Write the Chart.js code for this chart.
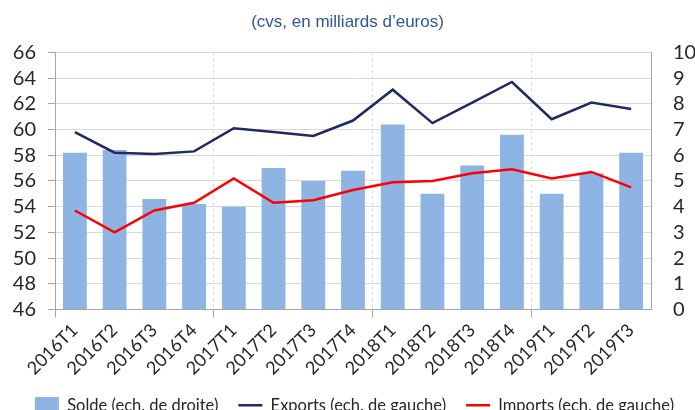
<!DOCTYPE html>
<html>
<head>
<meta charset="utf-8">
<script src="https://cdn.jsdelivr.net/npm/chart.js@4"></script>
<style>
  html, body { margin: 0; padding: 0; background: #fff; }
  #wrap { width: 695px; height: 410px; position: relative; }
</style>
</head>
<body>
<div id="wrap"><canvas id="chart"></canvas></div>
<script>
// Data
const quarters = ['2016T1', '2016T2', '2016T3', '2016T4', '2017T1', '2017T2', '2017T3', '2017T4',
    '2018T1', '2018T2', '2018T3', '2018T4', '2019T1', '2019T2', '2019T3'];
const solde = [6.1, 6.2, 4.3, 4.1, 4.0, 5.5, 5.0, 5.4, 7.2, 4.5, 5.6, 6.8, 4.5, 5.3, 6.1];
const exportsVals = [59.8, 58.2, 58.1, 58.3, 60.1, 59.8, 59.5, 60.7, 63.1, 60.5, 62.1, 63.7, 60.8, 62.1, 61.6];
const importsVals = [53.7, 52.0, 53.7, 54.3, 56.2, 54.3, 54.5, 55.3, 55.9, 56.0, 56.6, 56.9, 56.2, 56.7, 55.5];

const tickFont = { family: 'Lato', size: 20 };
const gridGrey = '#D9D9D9';
const axisGrey = '#A6A6A6';
const legendPad = 20;

// put the legend row at a fixed spot near the bottom edge, like the original
const legendShift = {
    id: 'legendShift',
    afterLayout(chart) {
        const lg = chart.legend;
        const h = lg.bottom - lg.top;
        lg.top = 406 - legendPad - 9;
        lg.bottom = lg.top + h;
        lg.left += 7;
        lg.right += 7;
    }
};

const ctx = document.getElementById('chart').getContext('2d');
new Chart(ctx, {
    data: {
        labels: quarters,
        datasets: [
            {
                type: 'bar',
                label: 'Solde (ech. de droite)',
                data: solde,
                yAxisID: 'yRight',
                backgroundColor: '#8EB4E3',
                borderWidth: 0,
                barPercentage: 0.6,
                categoryPercentage: 1,
                pointStyle: 'rect',
                order: 2
            },
            {
                type: 'line',
                label: 'Exports (ech. de gauche)',
                data: exportsVals,
                yAxisID: 'yLeft',
                borderColor: '#1F2A60',
                backgroundColor: '#1F2A60',
                borderWidth: 2.5,
                pointRadius: 0,
                tension: 0,
                pointStyle: 'line',
                order: 1
            },
            {
                type: 'line',
                label: 'Imports (ech. de gauche)',
                data: importsVals,
                yAxisID: 'yLeft',
                borderColor: '#FF0000',
                backgroundColor: '#FF0000',
                borderWidth: 2.5,
                pointRadius: 0,
                tension: 0,
                pointStyle: 'line',
                order: 1
            }
        ]
    },
    plugins: [legendShift],
    options: {
        responsive: true,
        maintainAspectRatio: false,
        animation: false,
        layout: { padding: { top: 0, left: 0, right: 0, bottom: -14 } },
        plugins: {
            title: {
                display: true,
                text: '(cvs, en milliards d\u2019euros)',
                color: '#2F5597',
                font: { family: 'Liberation Sans', size: 17, weight: 'normal' },
                padding: { top: 12, bottom: 20 }
            },
            legend: {
                position: 'bottom',
                labels: {
                    usePointStyle: true,
                    pointStyleWidth: 24,
                    color: '#262626',
                    font: { family: 'Lato', size: 16.5 },
                    padding: legendPad,
                    sort: (a, b) => a.datasetIndex - b.datasetIndex
                }
            },
            tooltip: { enabled: false }
        },
        scales: {
            x: {
                offset: true,
                grid: {
                    offset: true,
                    color: c => (c.index > 0 && c.index % 4 === 0) ? gridGrey : 'transparent',
                    tickColor: c => (c.index % 4 === 0) ? axisGrey : 'transparent',
                    tickLength: 8
                },
                border: { color: axisGrey, dash: [3, 3] },
                ticks: {
                    color: '#262626',
                    font: { family: 'Lato', size: 18 },
                    maxRotation: 45,
                    minRotation: 45,
                    autoSkip: false,
                    padding: 2
                },
                afterFit: s => { s.height = 68; }
            },
            yLeft: {
                position: 'left',
                min: 46,
                max: 66,
                ticks: { stepSize: 2, autoSkip: false, color: '#262626', font: tickFont, padding: 12 },
                grid: { color: gridGrey, tickColor: axisGrey, tickLength: 7 },
                border: { color: axisGrey },
                afterFit: s => { s.width = 55; }
            },
            yRight: {
                position: 'right',
                min: 0,
                max: 10,
                ticks: { stepSize: 1, autoSkip: false, color: '#262626', font: tickFont, padding: 22 },
                grid: { drawOnChartArea: false, drawTicks: false },
                border: { color: axisGrey },
                afterFit: s => { s.width = 44; }
            }
        }
    }
});
</script>
</body>
</html>
